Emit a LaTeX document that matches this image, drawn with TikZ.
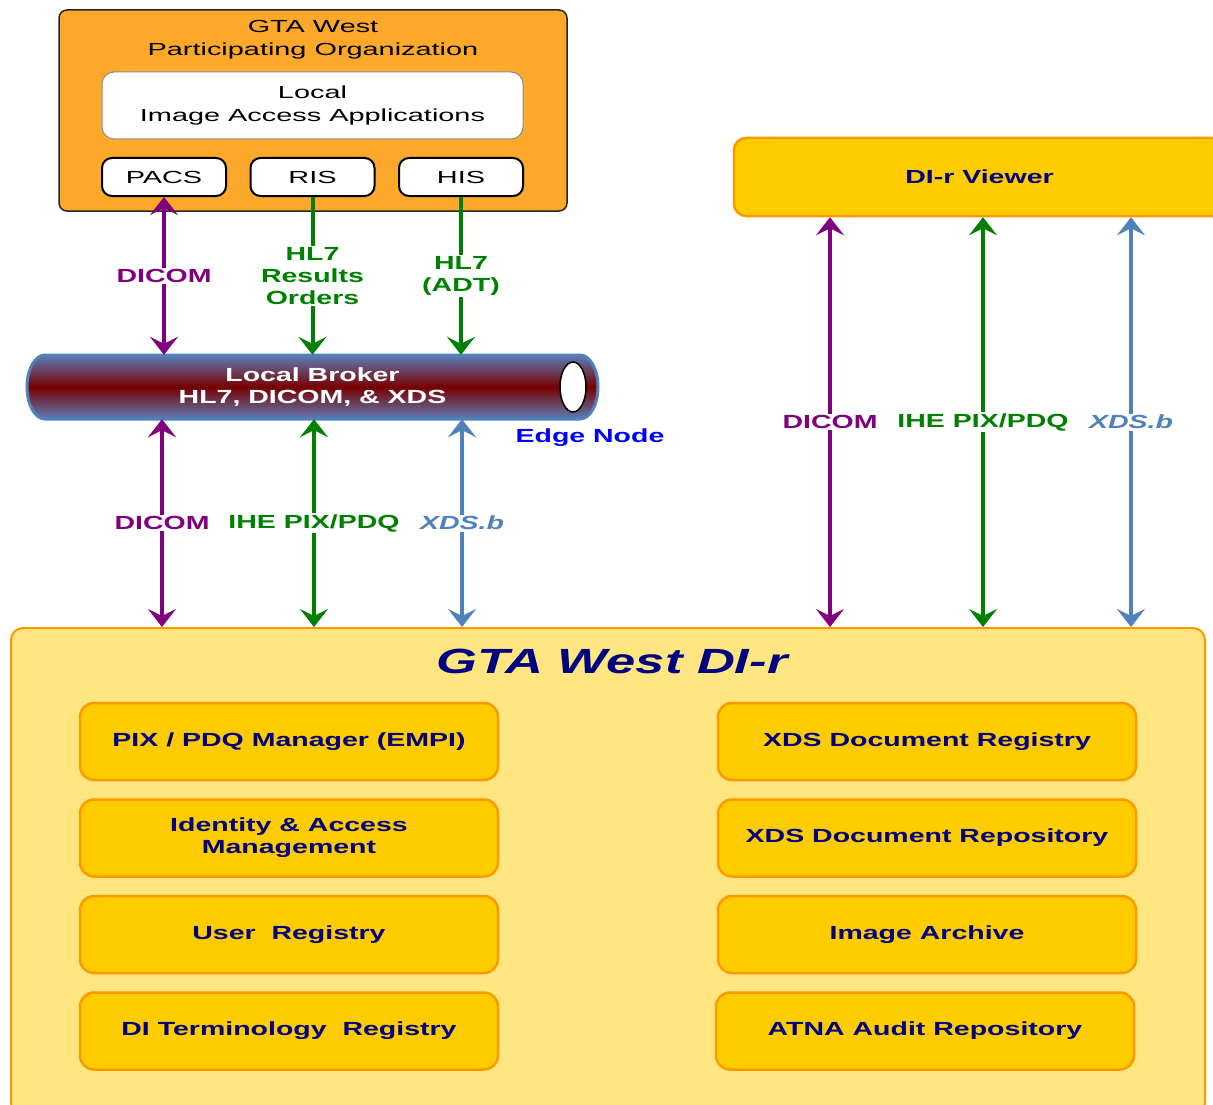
\documentclass[tikz,border=0pt]{standalone}
\usepackage{fontspec}
\setmainfont[FakeStretch=1.5]{Liberation Sans}
\newfontfamily\orgfont[FakeStretch=1.65]{Liberation Sans}
\usepackage{xcolor}
\usetikzlibrary{arrows.meta}
\definecolor{dicom}{HTML}{800080}
\definecolor{hlgreen}{HTML}{008000}
\definecolor{xdsblue}{HTML}{4F81BD}
\definecolor{navytext}{HTML}{000080}
\definecolor{orgorange}{HTML}{FBA82B}
\definecolor{boxfill}{HTML}{FFCC00}
\definecolor{boxline}{HTML}{FF9900}
\definecolor{dirfill}{HTML}{FFE680}
\definecolor{pipered}{HTML}{780000}
\definecolor{pipeshade}{HTML}{5B7DB8}

\begin{document}
\begin{tikzpicture}[x=1pt, y=-1pt,
        >={Stealth[length=18pt,width=28pt,inset=7pt]},
        boldtext/.style={font=\fontsize{19}{22}\selectfont\bfseries},
        orgtext/.style={font=\orgfont\fontsize{17.5}{23}\selectfont, align=center},
        appbox/.style={draw, line width=2pt, rounded corners=10pt, fill=white,
            minimum width=124pt, minimum height=38pt, orgtext},
        dibox/.style={draw=boxline, line width=2.5pt, rounded corners=14pt, fill=boxfill,
            minimum width=418pt, minimum height=77pt, boldtext, text=navytext, align=center},
        link/.style={line width=4pt},
        lbl/.style={boldtext, fill=white, inner sep=1.5pt, align=center},
        xdslbl/.style={lbl, font=\fontsize{19}{22}\selectfont\bfseries\itshape, text=xdsblue}]

        \useasboundingbox (0,0) rectangle (1213,1105);
        \clip (0,0) rectangle (1213,1105);

        \node[draw=black!85, line width=1.5pt, rounded corners=8pt, fill=orgorange,
            minimum width=508pt, minimum height=201pt] (org) at (313,110.5) {};
        \node[orgtext] (orgtitle) at (313,40) {GTA West\\Participating Organization};
        \node[draw=black!45, line width=1pt, rounded corners=12pt, fill=white,
            minimum width=421pt, minimum height=67pt, orgtext] (local) at (312.5,105.5)
            {Local\\Image Access Applications};
        \node[appbox] (pacs) at (164,177) {PACS};
        \node[appbox] (ris) at (312.5,177) {RIS};
        \node[appbox] (his) at (461,177) {HIS};

        \path[draw=xdsblue, line width=3pt, top color=pipeshade, bottom color=pipeshade,
            middle color=pipered]
            (45,355) -- (580,355) arc[start angle=90, end angle=-90, x radius=18pt, y radius=32pt]
            -- (45,419) arc[start angle=270, end angle=90, x radius=18pt, y radius=32pt] -- cycle;
        \draw[fill=white, line width=1.5pt] (573,387) ellipse[x radius=13pt, y radius=25pt];
        \node[boldtext, text=white, align=center, minimum width=571pt, minimum height=64pt]
            (broker) at (312.5,387) {Local Broker\\HL7, DICOM, \& XDS};
        \node[boldtext, text=blue] (edge) at (590,438) {Edge Node};

        \node[draw=boxline, line width=2.5pt, rounded corners=12pt, fill=boxfill,
            minimum width=491pt, minimum height=78pt, boldtext, text=navytext]
            (viewer) at (979.5,177) {DI-r Viewer};

        \node[draw=boxline, line width=2pt, rounded corners=12pt, fill=dirfill,
            minimum width=1194pt, minimum height=487pt] (dir) at (608,871.5) {};
        \node[font=\fontsize{35}{40}\selectfont\bfseries\itshape, text=navytext]
            (dirtitle) at (612,661) {GTA West DI-r};

        \node[dibox] (empi) at (289,741.5) {PIX / PDQ Manager (EMPI)};
        \node[dibox] (iam) at (289,838) {Identity \& Access\\Management};
        \node[dibox] (users) at (289,934.5) {User\ \ Registry};
        \node[dibox] (terms) at (289,1031) {DI Terminology\ \ Registry};
        \node[dibox] (registry) at (927,741.5) {XDS Document Registry};
        \node[dibox] (repository) at (927,838) {XDS Document Repository};
        \node[dibox] (archive) at (927,934.5) {Image Archive};
        \node[dibox] (atna) at (925,1031) {ATNA Audit Repository};

        \draw[link, draw=dicom, <->] (pacs.south) -- (pacs.south |- broker.north)
            node[lbl, text=dicom, midway] {DICOM};
        \draw[link, draw=hlgreen, ->] (ris.south) -- (ris.south |- broker.north)
            node[lbl, text=hlgreen, midway] {HL7\\Results\\Orders};
        \draw[link, draw=hlgreen, ->] (his.south) -- (his.south |- broker.north)
            node[lbl, text=hlgreen, midway] {HL7\\(ADT)};

        \draw[link, draw=dicom, <->] ([xshift=-2pt]pacs.south |- broker.south) -- ([xshift=-2pt]pacs.south |- dir.north)
            node[lbl, text=dicom, midway] {DICOM};
        \draw[link, draw=hlgreen, <->] ([xshift=1.5pt]ris.south |- broker.south) -- ([xshift=1.5pt]ris.south |- dir.north)
            node[lbl, text=hlgreen, midway] {IHE PIX/PDQ};
        \draw[link, draw=xdsblue, <->] ([xshift=1pt]his.south |- broker.south) -- ([xshift=1pt]his.south |- dir.north)
            node[xdslbl, midway] {XDS.b};

        \coordinate (vdicom) at (830,0);
        \coordinate (vpix) at (983,0);
        \coordinate (vxds) at (1131,0);
        \draw[link, draw=dicom, <->] (vdicom |- viewer.south) -- (vdicom |- dir.north)
            node[lbl, text=dicom, midway] {DICOM};
        \draw[link, draw=hlgreen, <->] (vpix |- viewer.south) -- (vpix |- dir.north)
            node[lbl, text=hlgreen, midway] {IHE PIX/PDQ};
        \draw[link, draw=xdsblue, <->] (vxds |- viewer.south) -- (vxds |- dir.north)
            node[xdslbl, midway] {XDS.b};
    \end{tikzpicture}
\end{document}
